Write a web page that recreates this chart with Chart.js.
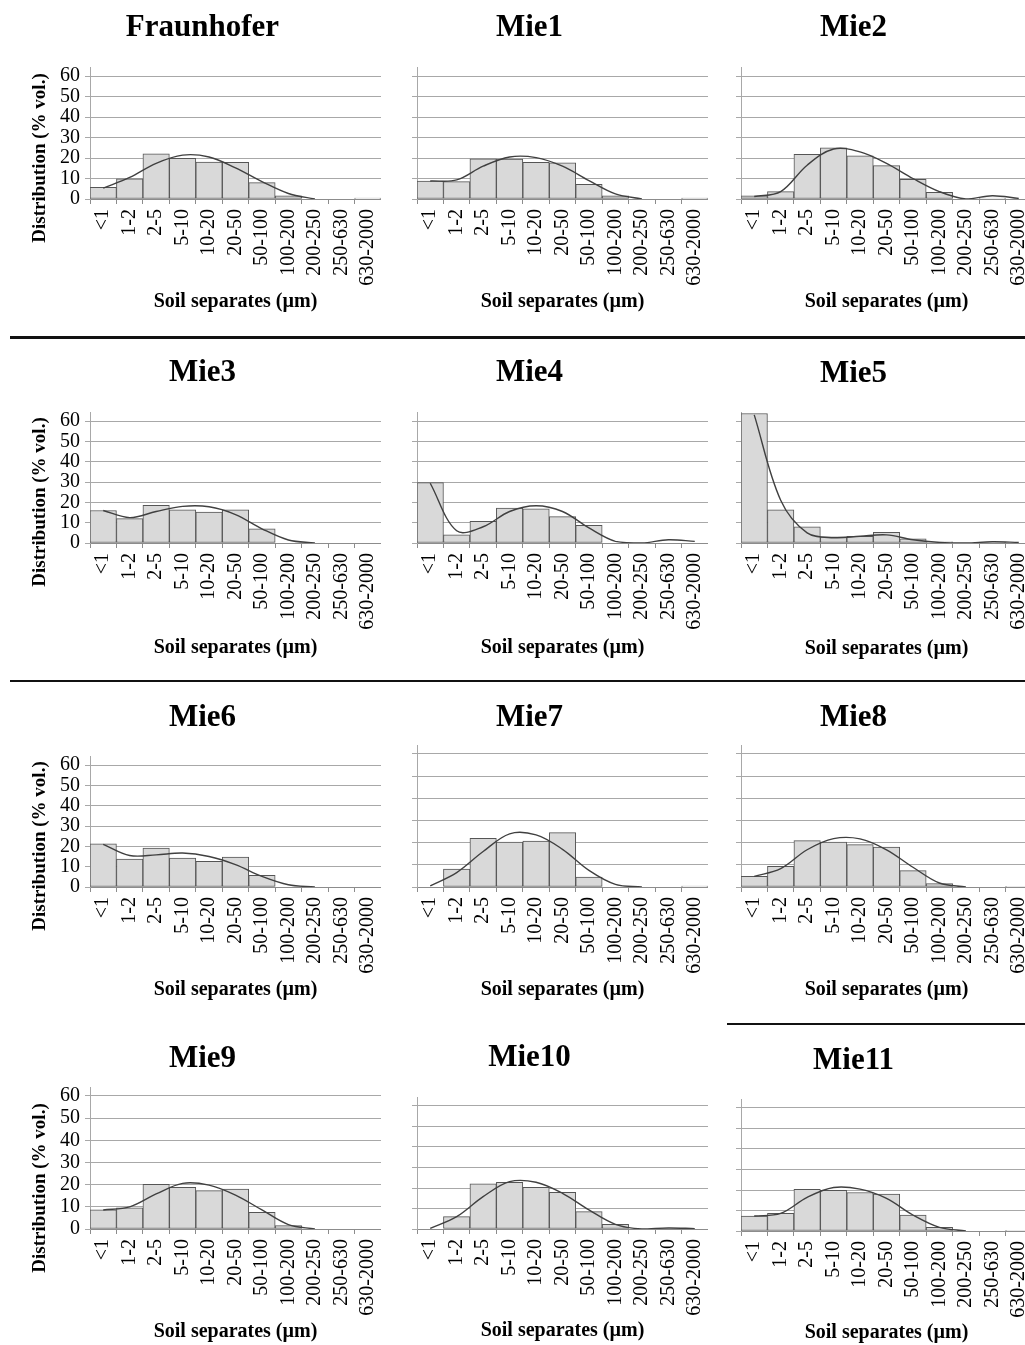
<!DOCTYPE html>
<html>
<head>
<meta charset="utf-8">
<script src="https://cdn.jsdelivr.net/npm/chart.js"></script>
<style>
  html, body { margin: 0; padding: 0; background: #fff; overflow: hidden; }
  body { width: 1025px; height: 1345px; position: relative; }
  canvas { position: absolute; }
  .rule { position: absolute; background: #111; }
</style>
</head>
<body>
<div class="rule" style="left:10px;top:336px;width:1015px;height:3px"></div>
<div class="rule" style="left:10px;top:680px;width:1015px;height:2px"></div>
<div class="rule" style="left:727px;top:1023px;width:298px;height:2px"></div>
<script>
// size classes (µm)
const sizeClasses = ["<1", "1-2", "2-5", "5-10", "10-20", "20-50", "50-100", "100-200", "200-250", "250-630", "630-2000"];
const yMax = 64;      // axis runs a little past the last gridline
const yLastTick = 60;
const yStep = 10;

// % vol. per class (bars) and the smoothed curve drawn over them
const barsFraunhofer = [5.7, 9.8, 22, 19.8, 18, 17.9, 8, 1.6, 0, 0, 0.4];
const curveFraunhofer = [5.3, 10.5, 17.4, 21.4, 20.5, 15.2, 8.5, 2.7, 0, null, null];
const barsMie1 = [8.8, 8.5, 19.6, 19.5, 17.9, 17.7, 7.2, 1.5, 0, 0, 0.5];
const curveMie1 = [8.8, 9.3, 16, 20.5, 20.2, 16, 9, 2.5, 0, null, null];
const barsMie2 = [1.5, 3.6, 21.8, 25, 21, 16.3, 9.6, 3.3, 0, 0.4, 0];
const curveMie2 = [1.2, 3.6, 16.5, 24.4, 23, 17.4, 10, 3.6, 0, 1.6, 0.3];
const barsMie3 = [16, 12, 18.5, 16.3, 15.2, 16.3, 7, 0, 0, 0, 0];
const curveMie3 = [16, 12.5, 15.5, 18, 17.8, 14, 7, 1.5, 0, null, null];
const barsMie4 = [29.7, 4, 10.6, 17.2, 16.8, 13, 8.7, 0, 0, 0, 0];
const curveMie4 = [29.4, 6, 8, 15.5, 18.3, 15.5, 7.4, 0.8, 0, 1.6, 0.8];
const barsMie5 = [63.7, 16.3, 7.9, 3, 3.3, 5.2, 2, 0.6, 0, 0.4, 0];
const curveMie5 = [63, 21, 5, 2.6, 3.3, 4, 1.6, 0.3, 0, 0.6, 0.3];
const barsMie6 = [21.2, 13.7, 19.1, 14.2, 12.6, 14.7, 5.7, 0, 0, 0, 0];
const curveMie6 = [21, 15.5, 15.8, 16.7, 15, 11, 5.2, 1.1, 0, null, null];
const barsMie7 = [0, 8.1, 22, 20.3, 20.7, 24.5, 4.5, 0, 0, 0, 0.4];
const curveMie7 = [0.5, 6.5, 16, 24, 23.5, 17, 7.5, 1.2, 0, null, null];
const barsMie8 = [4.8, 9.3, 20.9, 20.3, 19.1, 18, 7.4, 1.5, 0, 0, 0.3];
const curveMie8 = [4.8, 8.3, 16.8, 21.8, 21.7, 16.8, 8.9, 1.8, 0, null, null];
const barsMie9 = [8.6, 9.6, 20.2, 18.8, 17.3, 18, 7.5, 1.5, 0, 0, 0];
const curveMie9 = [8.6, 10, 15.8, 20.6, 19.8, 15.3, 8.6, 2, 0, null, null];
const barsMie10 = [0, 6, 22, 22.8, 20.3, 17.9, 8.5, 2.3, 0, 0.3, 0];
const curveMie10 = [0.3, 6, 15.8, 23.1, 22.8, 17.4, 9.3, 2.3, 0, 0.5, 0.2];
const barsMie11 = [7.3, 8.6, 20.3, 19.9, 18.8, 18, 7.8, 1.8, 0, 0, 0.3];
const curveMie11 = [7.3, 8.6, 16.4, 21.2, 20.4, 15.9, 7.8, 1.8, 0, null, null];

// page layout: chart area left edge per column; per panel the title centre,
// the y of the top (60) gridline, the zero line and the x-title centre
const colLeft = [90, 417, 741];
const plotWidth = 291;
const yAxisWidth = 66;
const panels = [
  { name: "Fraunhofer", bars: barsFraunhofer, curve: curveFraunhofer, col: 0, titleY: 28, top: 76, bottom: 199, xTitleY: 302 },
  { name: "Mie1", bars: barsMie1, curve: curveMie1, col: 1, titleY: 28, top: 76, bottom: 199, xTitleY: 302 },
  { name: "Mie2", bars: barsMie2, curve: curveMie2, col: 2, titleY: 28, top: 76, bottom: 199, xTitleY: 302 },
  { name: "Mie3", bars: barsMie3, curve: curveMie3, col: 0, titleY: 373, top: 421, bottom: 543, xTitleY: 648 },
  { name: "Mie4", bars: barsMie4, curve: curveMie4, col: 1, titleY: 373, top: 421, bottom: 543, xTitleY: 648 },
  { name: "Mie5", bars: barsMie5, curve: curveMie5, col: 2, titleY: 374, top: 421, bottom: 543, xTitleY: 649 },
  { name: "Mie6", bars: barsMie6, curve: curveMie6, col: 0, titleY: 718, top: 765, bottom: 887, xTitleY: 990 },
  { name: "Mie7", bars: barsMie7, curve: curveMie7, col: 1, titleY: 718, top: 754, bottom: 887, xTitleY: 990 },
  { name: "Mie8", bars: barsMie8, curve: curveMie8, col: 2, titleY: 718, top: 754, bottom: 887, xTitleY: 990 },
  { name: "Mie9", bars: barsMie9, curve: curveMie9, col: 0, titleY: 1059, top: 1096, bottom: 1229, xTitleY: 1332 },
  { name: "Mie10", bars: barsMie10, curve: curveMie10, col: 1, titleY: 1058, top: 1106, bottom: 1229, xTitleY: 1331 },
  { name: "Mie11", bars: barsMie11, curve: curveMie11, col: 2, titleY: 1061, top: 1108, bottom: 1231, xTitleY: 1333 }
];

const serif = "'Liberation Serif', 'Times New Roman', serif";
const titleSize = 31;
const axisTitleSize = 20;
const yTitleSize = 19;
const tickSize = 20;

// rotated y title, placed a little lower than the plot centre like the original
const yTitlePlugin = {
  id: "yTitle",
  afterDraw(chart, args, opts) {
    if (!opts.text) return;
    const ctx = chart.ctx;
    ctx.save();
    ctx.translate(opts.x, opts.y);
    ctx.rotate(-Math.PI / 2);
    ctx.font = "bold " + yTitleSize + "px " + serif;
    ctx.fillStyle = "#000";
    ctx.textAlign = "center";
    ctx.textBaseline = "middle";
    ctx.fillText(opts.text, 0, 0);
    ctx.restore();
  }
};

panels.forEach((p) => {
  const chartTop = p.bottom - (p.bottom - p.top) * yMax / yLastTick;
  const half = titleSize * 1.2 / 2;
  const canvasTop = Math.round(p.titleY - 2 - half);
  const padTop = p.titleY - canvasTop - half;
  const padBottom = chartTop - p.titleY - half;
  const canvasBottom = Math.round(p.xTitleY + axisTitleSize * 0.6 + 2);
  const xAxisHeight = canvasBottom - p.bottom;
  const xTitlePad = canvasBottom - p.xTitleY - axisTitleSize * 0.6;
  const canvasLeft = colLeft[p.col] - yAxisWidth;

  const canvas = document.createElement("canvas");
  canvas.width = yAxisWidth + plotWidth;
  canvas.height = canvasBottom - canvasTop;
  canvas.style.left = canvasLeft + "px";
  canvas.style.top = canvasTop + "px";
  document.body.appendChild(canvas);

  new Chart(canvas.getContext("2d"), {
    type: "bar",
    data: {
      labels: sizeClasses,
      datasets: [
        {
          type: "line",
          data: p.curve,
          borderColor: "#404040",
          borderWidth: 1.4,
          pointRadius: 0,
          tension: 0.35,
          fill: false,
          order: 0
        },
        {
          data: p.bars,
          backgroundColor: "#d9d9d9",
          borderColor: "#555555",
          borderWidth: 1,
          borderSkipped: false,
          barPercentage: 1,
          categoryPercentage: 1,
          order: 1
        }
      ]
    },
    options: {
      responsive: false,
      animation: false,
      layout: { padding: 0, autoPadding: false },
      scales: {
        x: {
          afterFit: (s) => {
            s.height = xAxisHeight;
            s.paddingLeft = 0;
            s.paddingRight = 0;
          },
          grid: { drawOnChartArea: false, drawTicks: true, tickLength: 5, color: "#8c8c8c" },
          border: { color: "#8c8c8c", width: 1 },
          ticks: {
            minRotation: 90,
            maxRotation: 90,
            autoSkip: false,
            padding: 5,
            color: "#000",
            font: { family: serif, size: tickSize }
          },
          title: {
            display: true,
            text: "Soil separates (µm)",
            color: "#000",
            font: { family: serif, size: axisTitleSize, weight: "bold" },
            padding: { top: 0, bottom: xTitlePad }
          }
        },
        y: {
          min: 0,
          max: yMax,
          afterFit: (s) => {
            s.width = yAxisWidth;
            s.paddingTop = 0;
            s.paddingBottom = 0;
          },
          grid: { color: "#a8a8a8", lineWidth: 1, tickLength: 5 },
          border: { color: "#a8a8a8", width: 1 },
          ticks: {
            display: p.col === 0,
            autoSkip: false,
            includeBounds: false,
            stepSize: yStep,
            padding: 5,
            color: "#000",
            font: { family: serif, size: tickSize }
          }
        }
      },
      plugins: {
        legend: { display: false },
        tooltip: { enabled: false },
        title: {
          display: true,
          text: p.name,
          color: "#000",
          font: { family: serif, size: titleSize, weight: "bold", lineHeight: 1.2 },
          padding: { top: padTop, bottom: padBottom }
        },
        yTitle: {
          text: p.col === 0 ? "Distribution (% vol.)" : "",
          x: 16,
          y: p.bottom - 41 - canvasTop
        }
      }
    },
    plugins: [yTitlePlugin]
  });
});
</script>
</body>
</html>
